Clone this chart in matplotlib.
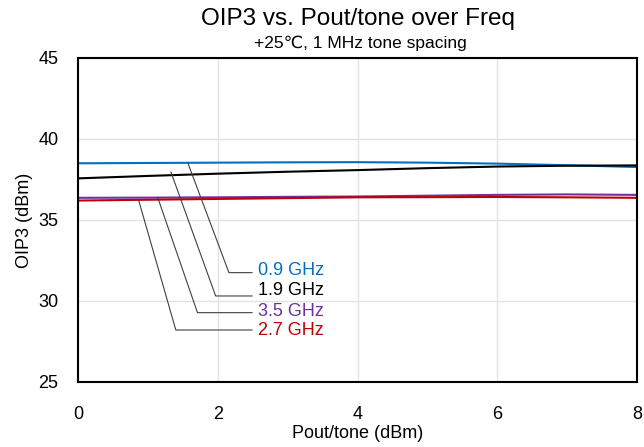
import matplotlib.pyplot as plt

plt.rcParams['font.family'] = ['Liberation Sans', 'DejaVu Sans']

# Data
pout = [0, 1, 2, 3, 4, 5, 6, 7, 8]
oip3_09 = [38.50, 38.52, 38.54, 38.56, 38.57, 38.54, 38.48, 38.38, 38.27]
oip3_19 = [37.57, 37.72, 37.86, 37.98, 38.08, 38.20, 38.30, 38.35, 38.37]
oip3_35 = [36.37, 36.38, 36.40, 36.43, 36.45, 36.50, 36.55, 36.58, 36.55]
oip3_27 = [36.20, 36.25, 36.30, 36.35, 36.40, 36.41, 36.42, 36.40, 36.37]

labels = ["0.9 GHz", "1.9 GHz", "3.5 GHz", "2.7 GHz"]
colors = ["#0070C0", "#000000", "#7030A0", "#C00000"]
series = [oip3_09, oip3_19, oip3_35, oip3_27]

# leader line anchor on curve, elbow point, label height (data coords)
anchors = [(1.57, 38.54), (1.33, 37.96), (1.14, 36.40), (0.87, 36.19)]
elbows = [(2.16, 31.75), (1.97, 30.31), (1.71, 29.28), (1.40, 28.21)]
label_y = [31.91, 30.62, 29.38, 28.15]
line_end = 2.49

fig = plt.figure(figsize=(6.44, 4.47), dpi=100)
ax = fig.add_axes([78/644, 1 - 382/447, 559/644, 324/447])

for y, c in zip(series, colors):
    ax.plot(pout, y, color=c, linewidth=1.5)

for (ax0, ay0), (ex, ey), ly, lab, c in zip(anchors, elbows, label_y, labels, colors):
    ax.plot([ax0, ex, line_end], [ay0, ey, ey], color="#404040", linewidth=0.8)
    ax.text(line_end + 0.085, ly, lab, color=c, fontsize=13, va="center", ha="left")

ax.set_xlim(0, 8)
ax.set_ylim(25, 45)
ax.set_xticks([0, 2, 4, 6, 8])
ax.set_yticks([25, 30, 35, 40, 45])
ax.grid(True, color="#E3E3E3", linewidth=1)
ax.set_axisbelow(True)
ax.tick_params(length=0, labelsize=13)
ax.tick_params(axis="x", pad=17)
ax.tick_params(axis="y", pad=14)
for s in ax.spines.values():
    s.set_linewidth(1.5)
    s.set_color("black")

ax.set_xlabel("Pout/tone (dBm)", fontsize=13, labelpad=2)
ax.set_ylabel("OIP3 (dBm)", fontsize=13, labelpad=4)

fig.text(358/644, 1 - 19/447, "OIP3 vs. Pout/tone over Freq", fontsize=17.5, ha="center", va="center")
fig.text(360/644, 1 - 43/447, "+25\u2103, 1 MHz tone spacing", fontsize=12.5, ha="center", va="center")

fig.savefig("out.png", dpi=100)
